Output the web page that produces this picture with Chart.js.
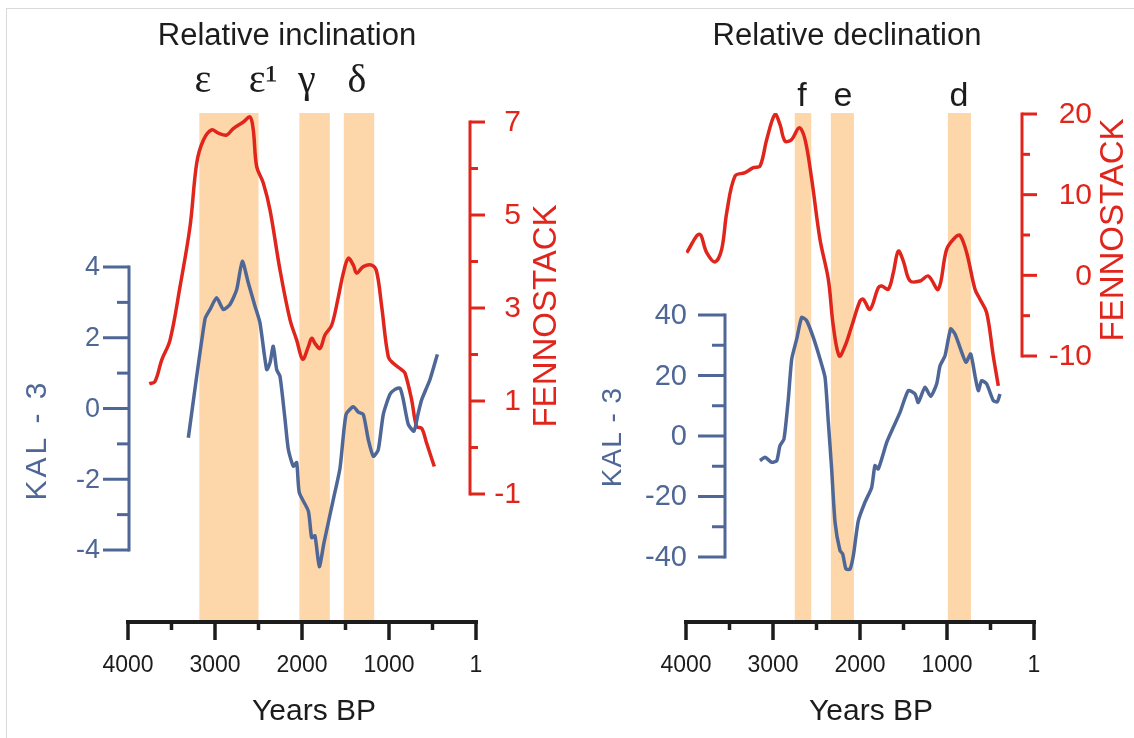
<!DOCTYPE html>
<html>
<head>
<meta charset="utf-8">
<script src="https://cdn.jsdelivr.net/npm/chart.js@4.4.1/dist/chart.umd.min.js"></script>
<style>
  html, body { margin: 0; padding: 0; background: #fff; }
  #wrap { position: relative; width: 1134px; height: 738px; overflow: hidden; background: #fff; }
  #frame { position: absolute; left: 6px; top: 8px; right: -2px; bottom: -2px;
           border-left: 1px solid #d9d9d9; border-top: 1px solid #d9d9d9; }
  canvas { position: absolute; top: 0; }
  #incl { left: 0; }
  #decl { left: 567px; }
</style>
</head>
<body>
<div id="wrap">
  <div id="frame"></div>
  <canvas id="incl" width="567" height="738"></canvas>
  <canvas id="decl" width="567" height="738"></canvas>
</div>
<script>
// ---------- data ----------
// shared time axis (years BP, plotted old -> young)
const yearTicks = [4000, 3500, 3000, 2500, 2000, 1500, 1000, 500, 0];
const yearTickLabels = ['4000', '', '3000', '', '2000', '', '1000', '', '1'];

// relative inclination
const inclFennoYears = [3755, 3690, 3613, 3517, 3402, 3287, 3210, 3134, 3038, 2962, 2866, 2790, 2675, 2598, 2560,
  2521, 2445, 2368, 2253, 2138, 2061, 1992, 1927, 1889, 1851, 1793, 1736, 1659, 1582, 1525,
  1468, 1410, 1372, 1295, 1199, 1142, 1084, 1008, 951, 854, 816, 739, 682, 624, 567, 479];
const inclFenno = [1.37, 1.42, 1.88, 2.31, 3.46, 4.75, 6.12, 6.61, 6.83, 6.76, 6.72, 6.86, 7.0, 7.11, 6.83,
  6.04, 5.69, 5.11, 3.82, 2.75, 2.31, 1.9, 2.17, 2.35, 2.24, 2.13, 2.42, 2.63, 3.24, 3.75,
  4.07, 3.92, 3.75, 3.89, 3.92, 3.78, 3.03, 1.95, 1.81, 1.67, 1.6, 1.02, 0.45, 0.41, 0.09, -0.41];
const inclKalYears = [3307, 3115, 3057, 2981, 2904, 2828, 2751, 2686, 2617, 2540, 2483, 2406, 2368, 2330, 2291,
  2253, 2195, 2157, 2100, 2061, 2031, 1927, 1889, 1851, 1801, 1747, 1640, 1563, 1494, 1410,
  1353, 1295, 1238, 1180, 1123, 1066, 989, 931, 874, 836, 778, 713, 663, 624, 529, 444];
const inclKal = [-0.83, 2.53, 2.8, 3.13, 2.8, 2.94, 3.36, 4.16, 3.55, 2.89, 2.42, 1.1, 1.29, 1.76, 1.1,
  0.91, -0.31, -1.16, -1.63, -1.53, -2.38, -2.9, -3.65, -3.6, -4.47, -3.79, -2.57, -1.68, -0.17, 0.05,
  -0.1, -0.17, -0.88, -1.35, -1.16, -0.17, 0.4, 0.54, 0.58, 0.25, -0.45, -0.64, -0.12, 0.25, 0.82, 1.53];
const inclKalTicks = [4, 3, 2, 1, 0, -1, -2, -3, -4];
const inclKalTickLabels = ['4', '', '2', '', '0', '', '-2', '', '-4'];
const inclFennoTicks = [7, 6, 5, 4, 3, 2, 1, 0, -1];
const inclFennoTickLabels = ['7', '', '5', '', '3', '', '1', '', '-1'];
const inclBands = [[3180, 2500], [2030, 1680], [1520, 1170]];
const inclBandNames = ['ε', 'ε¹', 'γ', 'δ'];

// relative declination
const declFennoYears = [3992, 3847, 3762, 3667, 3590, 3532, 3437, 3322, 3226, 3149, 3072, 2977, 2920, 2862, 2785,
  2698, 2632, 2555, 2460, 2364, 2307, 2238, 2172, 2095, 2000, 1962, 1885, 1790, 1750, 1675,
  1617, 1560, 1502, 1425, 1310, 1215, 1100, 1004, 908, 851, 774, 678, 621, 544, 468, 410];
const declFenno = [2.81, 5.08, 2.81, 1.65, 3.22, 7.77, 12.3, 12.73, 13.35, 13.54, 16.85, 19.95, 18.7, 16.64, 16.85,
  18.3, 16.85, 11.9, 4.46, -0.5, -6.28, -10.0, -8.76, -6.28, -3.18, -2.97, -4.21, -1.53, -1.33, -1.73,
  0.33, 3.01, 1.77, -0.7, -0.7, -0.08, -1.73, 3.22, 4.67, 4.96, 2.81, -1.73, -2.97, -4.62, -10.0, -13.7];
const declKalYears = [3149, 3092, 3015, 2957, 2920, 2874, 2824, 2785, 2728, 2670, 2613, 2537, 2460, 2402, 2364,
  2326, 2287, 2230, 2199, 2161, 2115, 2077, 2019, 1943, 1866, 1828, 1790, 1693, 1617, 1540,
  1445, 1368, 1330, 1253, 1188, 1119, 1080, 1023, 958, 908, 851, 782, 728, 678, 640,
  602, 544, 468, 422, 391];
const declKal = [-8.16, -7.05, -8.7, -8.16, -3.2, -1.0, 12.2, 25.4, 32.0, 39.2, 38.1, 32.6, 25.5, 19.4, 4.5,
  -10.9, -28.5, -37.9, -39.0, -44.0, -44.0, -39.6, -28.0, -21.9, -17.0, -9.8, -10.9, -2.1, 2.9, 7.8,
  15.0, 13.9, 11.1, 16.1, 13.1, 17.2, 23.2, 26.5, 35.4, 33.7, 29.3, 24.4, 27.1, 19.9, 15.0,
  18.3, 17.2, 11.7, 11.3, 13.9];
const declKalTicks = [40, 30, 20, 10, 0, -10, -20, -30, -40];
const declKalTickLabels = ['40', '', '20', '', '0', '', '-20', '', '-40'];
const declFennoTicks = [20, 15, 10, 5, 0, -5, -10];
const declFennoTickLabels = ['20', '', '10', '', '0', '', '-10'];
const declBands = [[2750, 2560], [2335, 2070], [990, 725]];
const declBandNames = ['f', 'e', 'd'];

// ---------- styling ----------
const RED = '#e0261c';
const BLUE = '#4f6796';
const BAND = '#fdd6a9';
const INK = '#1c1c1c';
const SANS = '"Liberation Sans", Arial, sans-serif';
const SERIF = '"Liberation Serif", "Times New Roman", serif';

const pts = (xs, ys) => xs.map((x, i) => ({ x, y: ys[i] }));

// draws the shaded intervals, the free-floating y axes, and all panel text
const panelDeco = {
  id: 'panelDeco',
  beforeDatasetsDraw(chart, args, o) {
    const { ctx, chartArea, scales: { x } } = chart;
    ctx.save();
    ctx.fillStyle = BAND;
    o.bands.forEach(([from, to]) => {
      const a = x.getPixelForValue(from), b = x.getPixelForValue(to);
      ctx.fillRect(Math.min(a, b), chartArea.top, Math.abs(b - a), chartArea.bottom - chartArea.top - 2);
    });
    ctx.restore();
  },
  afterDraw(chart, args, o) {
    const { ctx, chartArea, scales: { x } } = chart;
    ctx.save();

    // time axis line and tick marks
    ctx.strokeStyle = INK;
    ctx.lineWidth = 4;
    const y0 = chartArea.bottom;
    ctx.beginPath();
    ctx.moveTo(x.getPixelForValue(4000) - 2, y0);
    ctx.lineTo(x.getPixelForValue(0) + 2, y0);
    ctx.stroke();
    ctx.lineWidth = 3.5;
    yearTicks.forEach((v, i) => {
      const px = x.getPixelForValue(v);
      ctx.beginPath();
      ctx.moveTo(px, y0);
      ctx.lineTo(px, y0 + (yearTickLabels[i] ? 18 : 8));
      ctx.stroke();
    });

    // y axes
    o.axes.forEach(a => {
      const s = chart.scales[a.scale];
      const hi = s.getPixelForValue(a.ticks[0]);
      const lo = s.getPixelForValue(a.ticks[a.ticks.length - 1]);
      ctx.strokeStyle = a.color;
      ctx.fillStyle = a.color;
      ctx.lineWidth = 3;
      ctx.beginPath();
      ctx.moveTo(a.spine, hi - 1.5);
      ctx.lineTo(a.spine, lo + 1.5);
      ctx.stroke();
      ctx.font = a.font;
      ctx.textAlign = 'right';
      ctx.textBaseline = 'middle';
      a.ticks.forEach((v, i) => {
        const py = s.getPixelForValue(v);
        const len = a.labels[i] ? a.major : a.minor;
        ctx.beginPath();
        ctx.moveTo(a.spine, py);
        ctx.lineTo(a.spine + a.dir * len, py);
        ctx.stroke();
        if (a.labels[i]) ctx.fillText(a.labels[i], a.labelX, py + 1);
      });
      ctx.save();
      ctx.translate(a.titleX, a.titleY);
      ctx.rotate(-Math.PI / 2);
      ctx.textAlign = 'center';
      ctx.font = a.titleFont;
      ctx.letterSpacing = a.titleSpacing || '0px';
      ctx.fillText(a.title, 0, 0);
      ctx.restore();
    });

    // panel heading, interval names and time axis title
    ctx.fillStyle = INK;
    ctx.textAlign = 'center';
    ctx.textBaseline = 'alphabetic';
    ctx.font = '31px ' + SANS;
    ctx.fillText(o.heading, o.headingX, 45);
    ctx.font = '30px ' + SANS;
    ctx.fillText('Years BP', o.xTitleX, 720);
    ctx.font = o.nameFont;
    o.names.forEach((t, i) => {
      ctx.fillText(t, x.getPixelForValue(o.nameAt[i]), o.nameY);
    });
    ctx.restore();
  }
};

function makePanel(id, p) {
  return new Chart(document.getElementById(id), {
    type: 'line',
    data: {
      datasets: [
        { label: 'KAL - 3', data: pts(p.kalYears, p.kal), yAxisID: 'kal',
          borderColor: BLUE, borderWidth: 3.5, tension: 0.2, pointRadius: 0, fill: false },
        { label: 'FENNOSTACK', data: pts(p.fennoYears, p.fenno), yAxisID: 'fenno',
          borderColor: RED, borderWidth: 3.5, tension: 0.35, pointRadius: 0, fill: false }
      ]
    },
    options: {
      responsive: false,
      animation: false,
      devicePixelRatio: 1,
      layout: { padding: p.padding },
      plugins: {
        legend: { display: false },
        title: { display: false },
        tooltip: { enabled: false },
        panelDeco: p.deco
      },
      scales: {
        x: {
          type: 'linear', position: 'bottom', reverse: true, min: 0, max: 4000,
          afterFit: s => { s.height = 116; },
          afterBuildTicks: s => { s.ticks = yearTicks.map(v => ({ value: v })); },
          grid: { drawOnChartArea: false, drawTicks: true, tickLength: 18, color: 'rgba(0,0,0,0)' },
          border: { display: false },
          ticks: {
            autoSkip: false, maxRotation: 0, padding: 12, color: INK,
            font: { family: SANS, size: 23 },
            callback: (v) => yearTickLabels[yearTicks.indexOf(v)] || ''
          }
        },
        kal: { type: 'linear', display: false, min: p.kalRange[0], max: p.kalRange[1] },
        fenno: { type: 'linear', display: false, min: p.fennoRange[0], max: p.fennoRange[1] }
      }
    },
    plugins: [panelDeco]
  });
}

makePanel('incl', {
  kalYears: inclKalYears, kal: inclKal,
  fennoYears: inclFennoYears, fenno: inclFenno,
  padding: { left: 128, right: 91, top: 113, bottom: 0 },
  kalRange: [-6.035, 8.353],
  fennoRange: [-3.753, 7.194],
  deco: {
    bands: inclBands,
    heading: 'Relative inclination', headingX: 287, xTitleX: 314,
    names: inclBandNames, nameAt: [3138, 2448, 1943, 1368], nameY: 92,
    nameFont: '40px ' + SERIF,
    axes: [
      { scale: 'kal', ticks: inclKalTicks, labels: inclKalTickLabels, color: BLUE,
        spine: 129, dir: -1, major: 26, minor: 12, labelX: 100, font: '27px ' + SANS,
        title: 'KAL - 3', titleX: 38, titleY: 440, titleFont: '30px ' + SANS, titleSpacing: '3px' },
      { scale: 'fenno', ticks: inclFennoTicks, labels: inclFennoTickLabels, color: RED,
        spine: 470, dir: 1, major: 15, minor: 8, labelX: 521, font: '30px ' + SANS,
        title: 'FENNOSTACK', titleX: 547, titleY: 316, titleFont: '33px ' + SANS }
    ]
  }
});

makePanel('decl', {
  kalYears: declKalYears, kal: declKal,
  fennoYears: declFennoYears, fenno: declFenno,
  padding: { left: 119, right: 100, top: 113, bottom: 0 },
  kalRange: [-61.49, 106.78],
  fennoRange: [-42.975, 20.124],
  deco: {
    bands: declBands,
    heading: 'Relative declination', headingX: 280, xTitleX: 304,
    names: declBandNames, nameAt: [2667, 2195, 862], nameY: 106,
    nameFont: '34px ' + SANS,
    axes: [
      { scale: 'kal', ticks: declKalTicks, labels: declKalTickLabels, color: BLUE,
        spine: 158, dir: -1, major: 27, minor: 13, labelX: 120, font: '29px ' + SANS,
        title: 'KAL - 3', titleX: 46, titleY: 437, titleFont: '28px ' + SANS, titleSpacing: '1px' },
      { scale: 'fenno', ticks: declFennoTicks, labels: declFennoTickLabels, color: RED,
        spine: 455, dir: 1, major: 15, minor: 8, labelX: 525, font: '30px ' + SANS,
        title: 'FENNOSTACK', titleX: 547, titleY: 230, titleFont: '33px ' + SANS }
    ]
  }
});
</script>
</body>
</html>
